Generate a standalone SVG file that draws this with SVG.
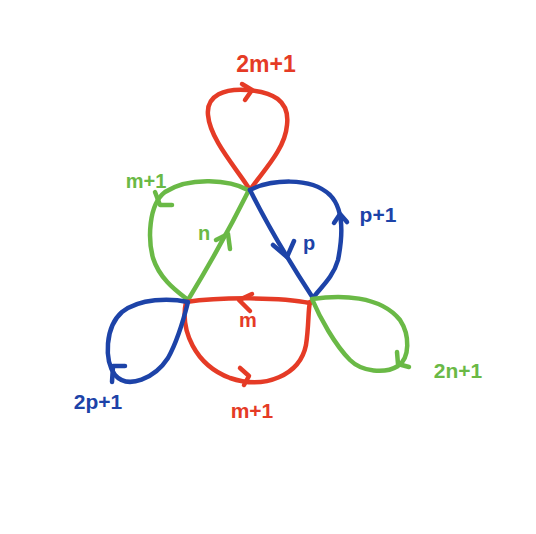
<svg xmlns="http://www.w3.org/2000/svg" width="536" height="534" viewBox="0 0 536 534">
<style>
.e{fill:none;stroke-width:4.5;stroke-linecap:round;stroke-linejoin:round}
.r{stroke:#e53b26}.g{stroke:#6ab946}.b{stroke:#1d43a8}
.t{font-family:"Liberation Sans",Arial,sans-serif;font-weight:bold;text-anchor:middle}
.tr{fill:#e53b26}.tg{fill:#6ab946}.tb{fill:#1d43a8}
</style>
<rect width="536" height="534" fill="#fff"/>
<g id="connectors">
<path class="e r" d="M250,190 C238,170 210,140 208,115 C206,95 225,88 248,90 C272,92 290,100 287,125 C285,150 262,172 250,190"/>
<polyline class="e r" points="242,84 252,90 245,100"/>
<path class="e g" d="M248,190 C230,180 190,176 165,192 C148,205 148,240 153,258 C160,280 178,292 188,300"/>
<polyline class="e g" points="155,192 160,205 172,205"/>
<path class="e g" d="M188,300 Q222,244 249,190"/>
<polyline class="e g" points="216,240 228,234 230,249"/>
<path class="e b" d="M250,190 C270,180 310,176 330,195 C345,210 342,240 338,260 C333,278 320,288 313,298"/>
<polyline class="e b" points="334,223 340,214 347,222"/>
<path class="e b" d="M250,190 Q275,240 313,298"/>
<polyline class="e b" points="273,245 287,257 294,241"/>
<path class="e r" d="M186,302 C220,297 280,297 310,303"/>
<polyline class="e r" points="252,294 239,300 250,311"/>
<path class="e r" d="M186,302 C180,330 195,365 230,378 C265,390 300,375 306,345 C309,325 308,310 310,302"/>
<polyline class="e r" points="240,368 249,376 244,385"/>
<path class="e b" d="M188,302 C170,298 140,298 122,312 C105,327 104,360 115,375 C128,390 155,378 168,358 C178,340 184,318 188,302"/>
<polyline class="e b" points="112,382 113,366 125,366"/>
<path class="e g" d="M312,299 C340,295 380,295 400,320 C410,335 410,358 398,366 C385,374 362,372 350,360 C335,345 320,318 312,299"/>
<polyline class="e g" points="397,352 398,364 409,367"/>
</g>
<g id="labels">
<text class="t tr" x="266" y="72" font-size="23">2m+1</text>
<text class="t tg" x="146" y="188" font-size="20">m+1</text>
<text class="t tg" x="204" y="240" font-size="20">n</text>
<text class="t tb" x="378" y="222" font-size="21">p+1</text>
<text class="t tb" x="309" y="250" font-size="20">p</text>
<text class="t tr" x="248" y="327" font-size="20">m</text>
<text class="t tr" x="252" y="418" font-size="21">m+1</text>
<text class="t tb" x="98" y="409" font-size="21">2p+1</text>
<text class="t tg" x="458" y="378" font-size="21">2n+1</text>
</g>
</svg>
